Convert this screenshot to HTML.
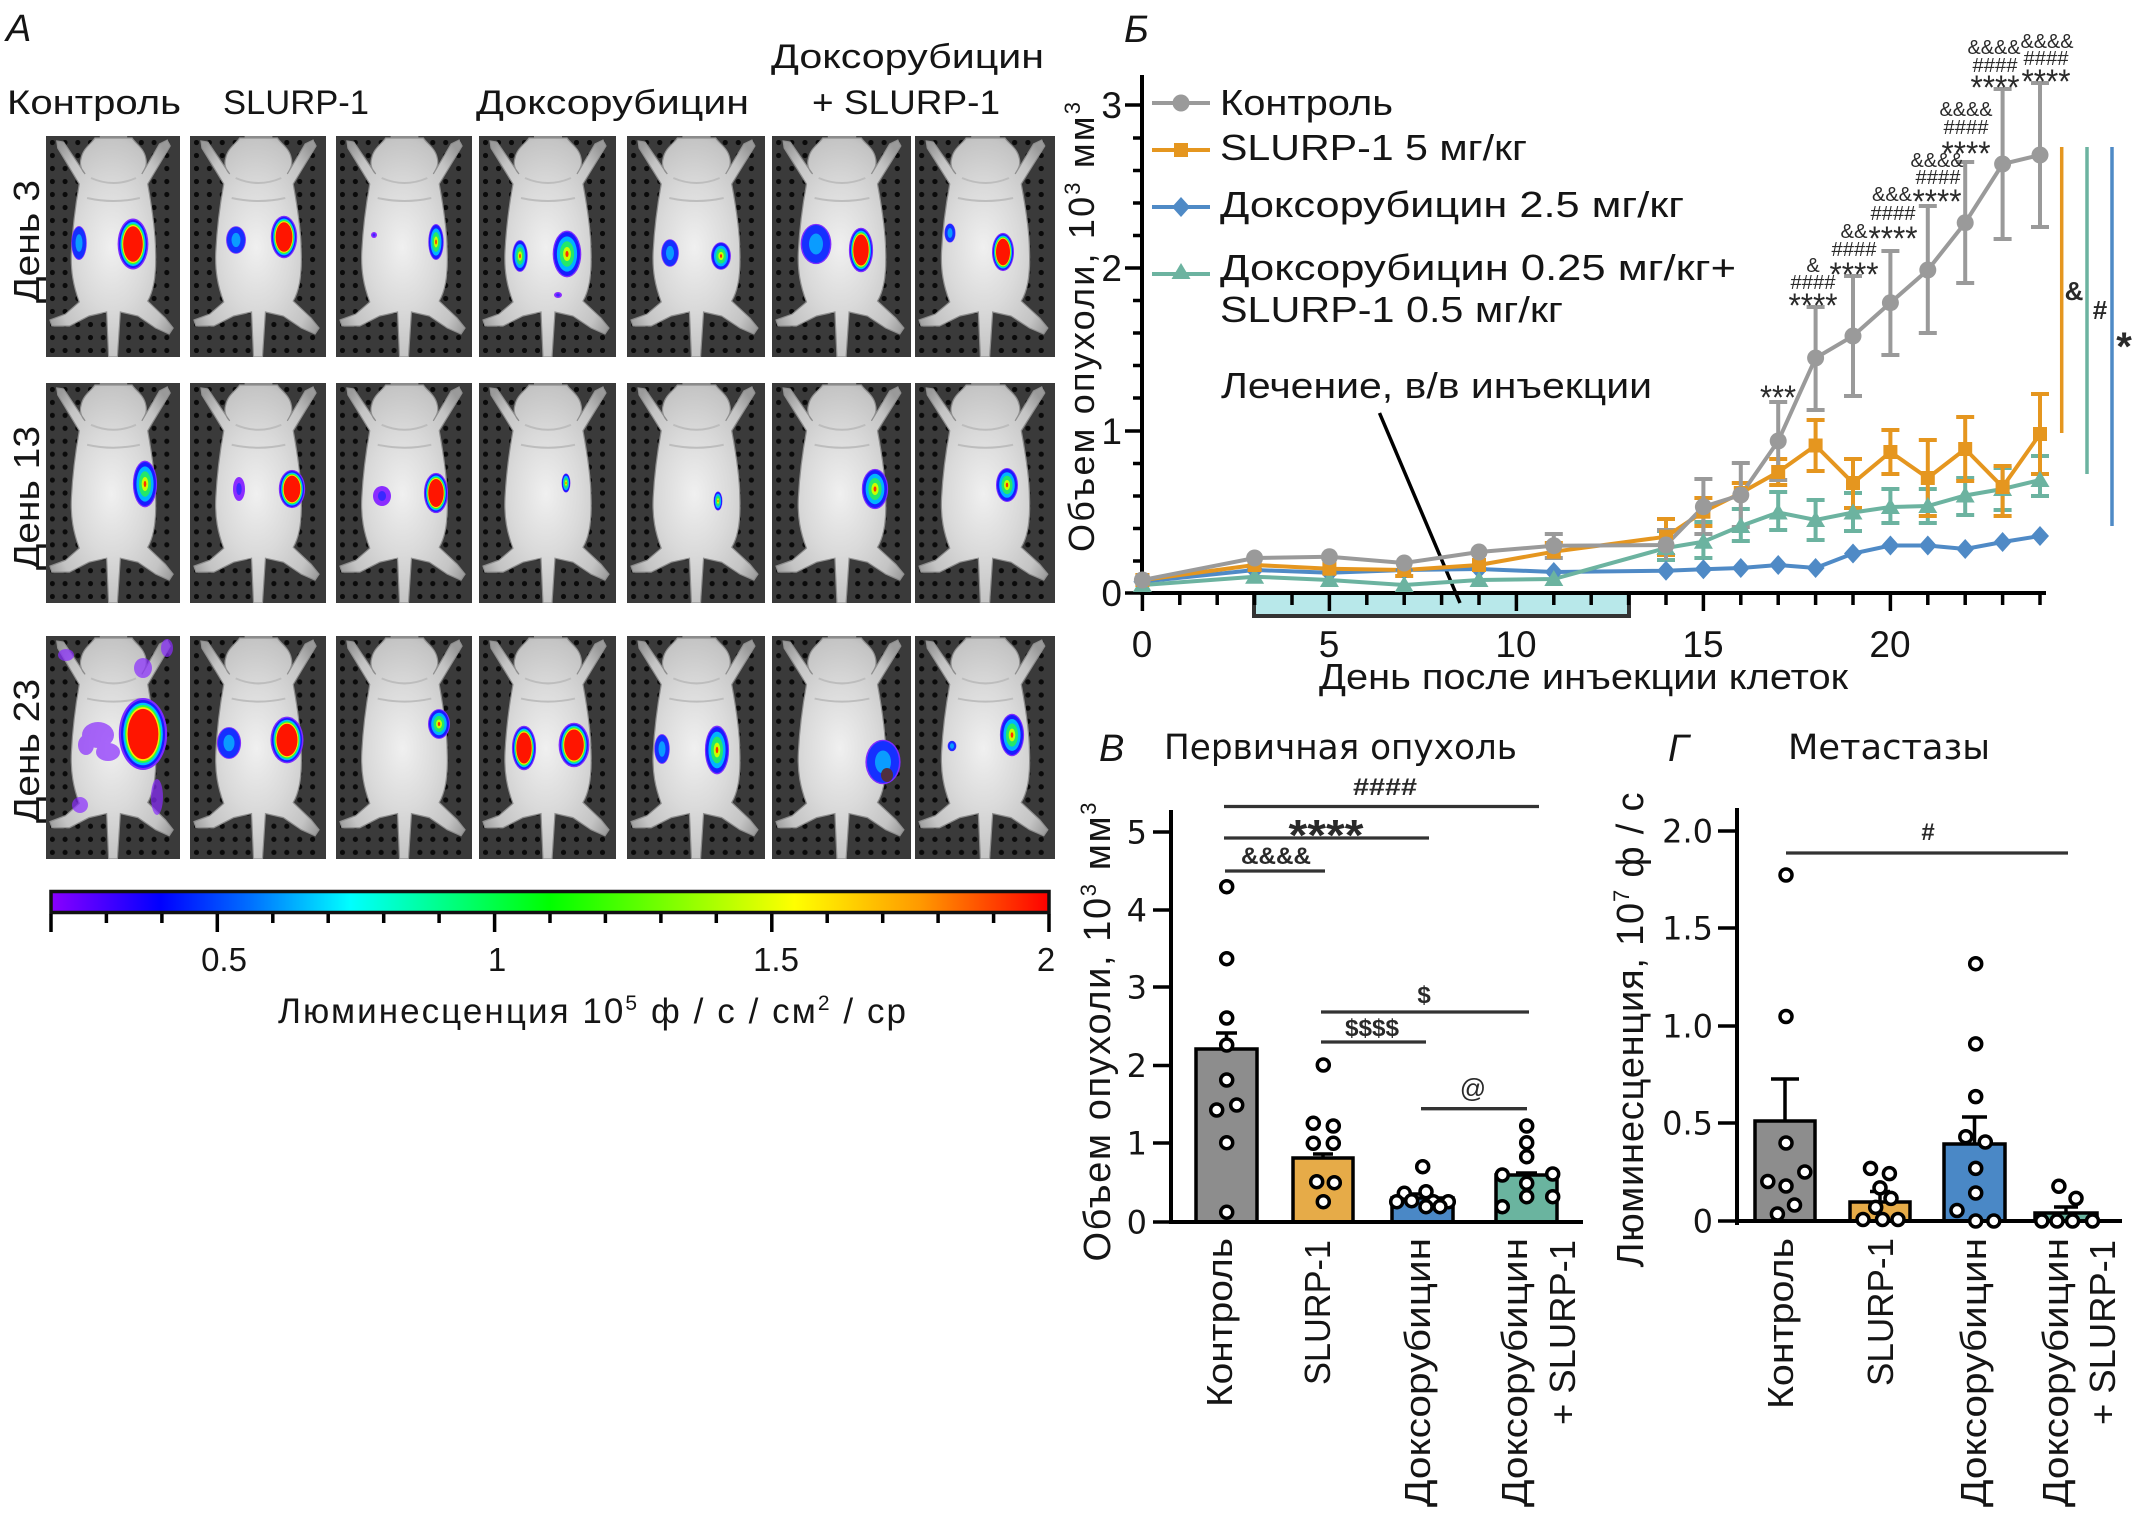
<!DOCTYPE html>
<html><head><meta charset="utf-8"><style>
html,body{margin:0;padding:0;background:#fff}
svg{display:block}
.t{font-family:"Liberation Sans","DejaVu Sans",sans-serif;fill:#151515}
.g{font-family:"DejaVu Sans","Liberation Sans",sans-serif;fill:#151515}
.d{fill:#fff;stroke:#000;stroke-width:3.5}
.ax{stroke:#000;stroke-width:4;fill:none}
.tk{stroke:#000;stroke-width:3.5;fill:none}
.sl{stroke:#333;stroke-width:3.3}
.s{font-family:"Liberation Sans",sans-serif;fill:#2a2a2a;text-anchor:middle}
</style></head><body>
<svg width="2137" height="1527" viewBox="0 0 2137 1527" xmlns="http://www.w3.org/2000/svg">
<defs>
<linearGradient id="cb" x1="0" x2="1" y1="0" y2="0">
<stop offset="0" stop-color="#8a00ff"/><stop offset="0.11" stop-color="#0000ff"/><stop offset="0.2" stop-color="#0070ff"/><stop offset="0.3" stop-color="#00ffff"/><stop offset="0.5" stop-color="#00ff00"/><stop offset="0.745" stop-color="#ffff00"/><stop offset="0.87" stop-color="#ff9a00"/><stop offset="1" stop-color="#ff0000"/>
</linearGradient>
<pattern id="holes" width="13" height="13" patternUnits="userSpaceOnUse"><circle cx="6.5" cy="6.5" r="2.6" fill="#0a0a0a"/></pattern>
<radialGradient id="skin" cx="0.5" cy="0.5" r="0.62"><stop offset="0" stop-color="#f0f0f0"/><stop offset="0.45" stop-color="#dadada"/><stop offset="0.8" stop-color="#c4c4c4"/><stop offset="1" stop-color="#9a9a9a"/></radialGradient>
<symbol id="m" viewBox="0 0 137 221" preserveAspectRatio="none">
<rect width="137" height="221" fill="#3a3a3a"/>
<rect x="4" y="4" width="129" height="213" fill="url(#holes)"/>
<rect x="55" y="0" width="28" height="8" fill="#8a8a8a"/>
<path d="M50 2 L88 2 C92 8 100 12 102 22 C104 30 100 34 98 38 L116 8 L124 4 L127 10 L104 48 C108 70 112 95 112 115 C113 140 110 155 104 165 L122 182 L130 192 L126 198 L112 192 L94 180 L76 176 L73 221 L64 221 L62 176 L44 180 L24 190 L6 190 L4 184 L20 178 L34 166 C28 150 25 135 26 115 C27 95 30 70 34 48 L12 12 L11 5 L18 6 L40 38 C36 34 34 28 36 22 C38 12 46 8 50 2 Z" fill="url(#skin)" stroke="#8e8e8e" stroke-width="1.2"/>
<path d="M46 42 Q69 52 92 42 M42 62 Q69 68 96 62" fill="none" stroke="#bdbdbd" stroke-width="2"/>
</symbol>
<g id="bR"><ellipse rx="1.1" ry="1.06" fill="#7f2cff"/><ellipse rx="1" ry="1" fill="#1a1aff"/><ellipse rx=".9" ry=".92" fill="#00bfff"/><ellipse rx=".82" ry=".85" fill="#2cff3a"/><ellipse rx=".76" ry=".79" fill="#ffe600"/><ellipse rx=".7" ry=".74" fill="#ff1500"/></g>
<g id="bG"><ellipse rx="1.1" ry="1.06" fill="#7f2cff"/><ellipse rx="1" ry="1" fill="#1a1aff"/><ellipse rx=".78" ry=".8" fill="#00b4ff"/><ellipse rx=".55" ry=".58" fill="#23e86a"/><ellipse rx=".3" ry=".32" fill="#c8ff00"/><ellipse rx=".12" ry=".14" fill="#ff3000"/></g>
<g id="bB"><ellipse rx="1.1" ry="1.06" fill="#7f2cff"/><ellipse rx="1" ry="1" fill="#1530ff"/><ellipse rx=".5" ry=".55" fill="#0a9cff"/></g>
<g id="bP"><ellipse rx="1" ry="1" fill="#8a2cff"/><ellipse rx=".45" ry=".5" fill="#3a28ff"/></g>
<circle id="gC" r="8.5" fill="#9a9a9a"/>
<rect id="oS" x="-7" y="-7" width="14" height="14" fill="#e5961f"/>
<path id="bD" d="M0 -10 L9 0 L0 10 L-9 0 Z" fill="#4f8ac6"/>
<path id="tT" d="M0 -9 L9.5 7 L-9.5 7 Z" fill="#6cb3a0"/>
</defs>

<!-- ===== Panel A ===== -->
<text class="t" x="6" y="41" font-size="38" font-style="italic">А</text>
<text class="t" x="7" y="114" font-size="34" textLength="174" lengthAdjust="spacingAndGlyphs">Контроль</text>
<text class="t" x="223" y="114" font-size="34" textLength="146" lengthAdjust="spacingAndGlyphs">SLURP-1</text>
<text class="t" x="476" y="114" font-size="34" textLength="273" lengthAdjust="spacingAndGlyphs">Доксорубицин</text>
<text class="t" x="771" y="68" font-size="34" textLength="273" lengthAdjust="spacingAndGlyphs">Доксорубицин</text>
<text class="t" x="812" y="114" font-size="34" textLength="188" lengthAdjust="spacingAndGlyphs">+ SLURP-1</text>

<text class="t" font-size="36" text-anchor="end" transform="translate(39 180) rotate(-90)" textLength="123" lengthAdjust="spacingAndGlyphs">День 3</text>
<text class="t" font-size="36" text-anchor="end" transform="translate(39 426) rotate(-90)" textLength="144" lengthAdjust="spacingAndGlyphs">День 13</text>
<text class="t" font-size="36" text-anchor="end" transform="translate(39 679) rotate(-90)" textLength="144" lengthAdjust="spacingAndGlyphs">День 23</text>

<!-- mouse panels -->
<use href="#m" x="46" y="136" width="134" height="221"/>
<use href="#m" x="190" y="136" width="136" height="221"/>
<use href="#m" x="336" y="136" width="136" height="221"/>
<use href="#m" x="479" y="136" width="137" height="221"/>
<use href="#m" x="627" y="136" width="138" height="221"/>
<use href="#m" x="772" y="136" width="139" height="221"/>
<use href="#m" x="915" y="136" width="140" height="221"/>
<use href="#m" x="46" y="383" width="134" height="220"/>
<use href="#m" x="190" y="383" width="136" height="220"/>
<use href="#m" x="336" y="383" width="136" height="220"/>
<use href="#m" x="479" y="383" width="137" height="220"/>
<use href="#m" x="627" y="383" width="138" height="220"/>
<use href="#m" x="772" y="383" width="139" height="220"/>
<use href="#m" x="915" y="383" width="140" height="220"/>
<use href="#m" x="46" y="636" width="134" height="223"/>
<use href="#m" x="190" y="636" width="136" height="223"/>
<use href="#m" x="336" y="636" width="136" height="223"/>
<use href="#m" x="479" y="636" width="137" height="223"/>
<use href="#m" x="627" y="636" width="138" height="223"/>
<use href="#m" x="772" y="636" width="139" height="223"/>
<use href="#m" x="915" y="636" width="140" height="223"/>

<!-- blobs row 1 -->
<use href="#bR" transform="translate(133 244) scale(14 24)"/>
<use href="#bB" transform="translate(79 243) scale(7 16)"/>
<use href="#bR" transform="translate(284 237) scale(12 20)"/>
<use href="#bB" transform="translate(236 240) scale(9 13)"/>
<use href="#bG" transform="translate(436 242) scale(7 17)"/>
<use href="#bP" transform="translate(374 235) scale(3 3)"/>
<use href="#bG" transform="translate(567 254) scale(13 22)"/>
<use href="#bG" transform="translate(520 256) scale(7 15)"/>
<use href="#bP" transform="translate(558 295) scale(4 3)"/>
<use href="#bG" transform="translate(721 256) scale(9 13)"/>
<use href="#bB" transform="translate(670 253) scale(8 13)"/>
<use href="#bR" transform="translate(861 250) scale(11 21)"/>
<use href="#bB" transform="translate(816 244) scale(14 19)"/>
<use href="#bR" transform="translate(1003 252) scale(10 18)"/>
<use href="#bB" transform="translate(950 233) scale(5 9)"/>
<!-- row 2 -->
<use href="#bG" transform="translate(145 484) scale(11 22)"/>
<use href="#bR" transform="translate(292 489) scale(12 18)"/>
<use href="#bP" transform="translate(239 489) scale(6 12)"/>
<use href="#bR" transform="translate(436 493) scale(11 19)"/>
<use href="#bP" transform="translate(382 496) scale(9 10)"/>
<use href="#bG" transform="translate(566 483) scale(4 9)"/>
<use href="#bG" transform="translate(718 501) scale(4 9)"/>
<use href="#bG" transform="translate(875 489) scale(12 19)"/>
<use href="#bG" transform="translate(1007 485) scale(10 16)"/>
<!-- row 3 -->
<g fill="#8a2cff" opacity="0.7">
<ellipse cx="98" cy="735" rx="16" ry="13"/>
<ellipse cx="108" cy="752" rx="12" ry="9"/>
<ellipse cx="86" cy="745" rx="8" ry="10"/>
<ellipse cx="66" cy="655" rx="8" ry="6"/>
<ellipse cx="167" cy="648" rx="6" ry="9"/>
<ellipse cx="143" cy="668" rx="9" ry="10"/>
<ellipse cx="80" cy="805" rx="8" ry="8"/>
<ellipse cx="157" cy="797" rx="6" ry="18"/>
</g>
<use href="#bR" transform="translate(143 734) scale(22 34)"/>
<use href="#bR" transform="translate(287 740) scale(15 22)"/>
<use href="#bB" transform="translate(229 743) scale(11 15)"/>
<use href="#bG" transform="translate(439 724) scale(10 14)"/>
<use href="#bR" transform="translate(574 745) scale(14 21)"/>
<use href="#bR" transform="translate(524 748) scale(11 21)"/>
<use href="#bG" transform="translate(717 750) scale(11 23)"/>
<use href="#bB" transform="translate(662 749) scale(7 14)"/>
<use href="#bB" transform="translate(883 762) scale(16 21)"/>
<ellipse cx="887" cy="775" rx="6" ry="7" fill="#503040"/>
<use href="#bG" transform="translate(1012 735) scale(11 20)"/>
<use href="#bB" transform="translate(952 746) scale(4 5)"/>

<!-- colorbar -->
<rect x="51" y="891.5" width="998" height="21" fill="url(#cb)" stroke="#111" stroke-width="3.5"/>
<g class="tk">
<path d="M51 914V932M106.4 914V923M161.9 914V923M217.3 914V932M272.8 914V923M328.2 914V923M383.7 914V923M439.1 914V923M494.6 914V932M550 914V923M605.4 914V923M660.9 914V923M716.3 914V923M771.8 914V932M827.2 914V923M882.7 914V923M938.1 914V923M993.6 914V923M1049 914V932"/>
</g>
<g class="t" font-size="33" text-anchor="middle">
<text x="224" y="971">0.5</text><text x="497" y="971">1</text><text x="776" y="971">1.5</text><text x="1046" y="971">2</text>
</g>
<text class="t" x="278" y="1023" font-size="35" textLength="628" lengthAdjust="spacing">Люминесценция 10<tspan dy="-13" font-size="21">5</tspan><tspan dy="13"> ф / с / см</tspan><tspan dy="-13" font-size="21">2</tspan><tspan dy="13"> / ср</tspan></text>

<!-- ===== Panel Б ===== -->
<text class="t" x="1124" y="42" font-size="38" font-style="italic">Б</text>
<rect x="1254" y="593" width="375" height="23" fill="#b8e8ea" stroke="#333" stroke-width="4"/>
<path class="ax" d="M1142 75V595M1140 593H2046"/>
<path class="tk" d="M1125 105H1142M1125 268H1142M1125 431H1142M1125 593H1142M1133 138H1142M1133 170.5H1142M1133 203H1142M1133 235.5H1142M1133 300.5H1142M1133 333H1142M1133 365.5H1142M1133 398H1142M1133 463.5H1142M1133 496H1142M1133 528.5H1142M1133 561H1142"/>
<path class="tk" d="M1142.4 593V611M1179.8 593V605M1217.2 593V605M1254.6 593V605M1292 593V605M1329.4 593V611M1366.8 593V605M1404.2 593V605M1441.6 593V605M1479 593V605M1516.4 593V611M1553.8 593V605M1591.2 593V605M1628.6 593V605M1666 593V605M1703.4 593V611M1740.8 593V605M1778.2 593V605M1815.6 593V605M1853 593V605M1890.4 593V611M1927.8 593V605M1965.2 593V605M2002.6 593V605M2040 593V605"/>
<g class="t" font-size="37" text-anchor="end">
<text x="1122" y="118">3</text><text x="1122" y="281">2</text><text x="1122" y="444">1</text><text x="1122" y="606">0</text>
</g>
<g class="t" font-size="37" text-anchor="middle">
<text x="1142" y="657">0</text><text x="1329" y="657">5</text><text x="1516" y="657">10</text><text x="1703" y="657">15</text><text x="1890" y="657">20</text>
</g>
<text class="t" x="1319" y="689" font-size="36" textLength="529" lengthAdjust="spacingAndGlyphs">День после инъекции клеток</text>
<text class="t" font-size="36" text-anchor="middle" transform="translate(1094 327) rotate(-90)" textLength="450" lengthAdjust="spacing">Объем опухоли, 10<tspan dy="-14" font-size="22">3</tspan><tspan dy="14"> мм</tspan><tspan dy="-14" font-size="22">3</tspan></text>

<!-- legend -->
<path d="M1152 103H1210" stroke="#9a9a9a" stroke-width="4"/><use href="#gC" x="1181" y="103"/>
<path d="M1152 150H1210" stroke="#e5961f" stroke-width="4"/><use href="#oS" x="1181" y="150"/>
<path d="M1152 207H1210" stroke="#4f8ac6" stroke-width="4"/><use href="#bD" x="1181" y="207"/>
<path d="M1152 274H1210" stroke="#6cb3a0" stroke-width="4"/><use href="#tT" x="1181" y="272"/>
<g class="t" font-size="36">
<text x="1220" y="115" textLength="173" lengthAdjust="spacingAndGlyphs">Контроль</text>
<text x="1220" y="160" textLength="307" lengthAdjust="spacingAndGlyphs">SLURP-1 5 мг/кг</text>
<text x="1220" y="217" textLength="464" lengthAdjust="spacingAndGlyphs">Доксорубицин 2.5 мг/кг</text>
<text x="1220" y="280" textLength="516" lengthAdjust="spacingAndGlyphs">Доксорубицин 0.25 мг/кг+</text>
<text x="1220" y="322" textLength="343" lengthAdjust="spacingAndGlyphs">SLURP-1 0.5 мг/кг</text>
</g>
<text class="t" x="1221" y="398" font-size="36" textLength="431" lengthAdjust="spacingAndGlyphs">Лечение, в/в инъекции</text>
<path d="M1379.5 413L1460 603" stroke="#000" stroke-width="3.5"/>

<!-- error bars -->
<path fill="none" stroke="#6cb3a0" stroke-width="4" d="M1666 531V560M1657 531h18M1657 560h18M1703.4 522V558M1694.4 522h18M1694.4 558h18M1740.8 509V541M1731.8 509h18M1731.8 541h18M1778.2 492V530M1769.2 492h18M1769.2 530h18M1815.6 500V540M1806.6 500h18M1806.6 540h18M1853 493V531M1844 493h18M1844 531h18M1890.4 489V523M1881.4 489h18M1881.4 523h18M1927.8 489V523M1918.8 489h18M1918.8 523h18M1965.2 478V515M1956.2 478h18M1956.2 515h18M2002.6 468V510M1993.6 468h18M1993.6 510h18M2040 456V496M2031 456h18M2031 496h18"/>
<path fill="none" stroke="#e5961f" stroke-width="4" d="M1404.2 565V576M1395.2 576h18M1553.8 543V560M1544.8 543h18M1666 519V555M1657 519h18M1657 555h18M1703.4 498V526M1694.4 498h18M1694.4 526h18M1740.8 483V503M1731.8 483h18M1778.2 459V485M1769.2 459h18M1769.2 485h18M1815.6 420V471M1806.6 420h18M1806.6 471h18M1853 459V508M1844 459h18M1844 508h18M1890.4 430V474M1881.4 430h18M1881.4 474h18M1927.8 440V516M1918.8 440h18M1918.8 516h18M1965.2 417V481M1956.2 417h18M1956.2 481h18M2002.6 466V516M1993.6 466h18M1993.6 516h18M2040 394V474M2031 394h18M2031 474h18"/>
<path fill="none" stroke="#9a9a9a" stroke-width="4" d="M1553.8 534V558M1544.8 534h18M1544.8 558h18M1666 530V560M1657 530h18M1703.4 479V534M1694.4 479h18M1694.4 534h18M1740.8 463V527M1731.8 463h18M1731.8 527h18M1778.2 402V480M1769.2 402h18M1769.2 480h18M1815.6 307V410M1806.6 307h18M1806.6 410h18M1853 276V396M1844 276h18M1844 396h18M1890.4 251V355M1881.4 251h18M1881.4 355h18M1927.8 206V333M1918.8 206h18M1918.8 333h18M1965.2 162V283M1956.2 162h18M1956.2 283h18M2002.6 89V239M1993.6 89h18M1993.6 239h18M2040 83V227M2031 83h18M2031 227h18"/>

<!-- series lines -->
<polyline fill="none" stroke="#4f8ac6" stroke-width="4" points="1142.4,581.7 1254.6,570 1329.4,572.7 1404.2,570 1479,569 1553.8,572 1666,570.7 1703.4,569.3 1740.8,568 1778.2,565 1815.6,568 1853,553.5 1890.4,545.5 1927.8,545.5 1965.2,549 2002.6,542 2040,536"/>
<polyline fill="none" stroke="#6cb3a0" stroke-width="4" points="1142.4,585 1254.6,576.7 1329.4,580 1404.2,585 1479,580 1553.8,579 1666,548 1703.4,541.7 1740.8,526 1778.2,512.5 1815.6,520 1853,512.5 1890.4,507 1927.8,506 1965.2,495.5 2002.6,489 2040,480"/>
<polyline fill="none" stroke="#e5961f" stroke-width="4" points="1142.4,580 1254.6,565 1329.4,568.7 1404.2,570 1479,565 1553.8,551.7 1666,536.7 1703.4,511.7 1740.8,493 1778.2,472 1815.6,445.5 1853,483 1890.4,452 1927.8,478 1965.2,449 2002.6,487 2040,434"/>
<polyline fill="none" stroke="#9a9a9a" stroke-width="4" points="1142.4,580 1254.6,558 1329.4,556.7 1404.2,563 1479,552 1553.8,545.7 1666,545 1703.4,506.7 1740.8,495 1778.2,441 1815.6,358 1853,336 1890.4,302.7 1927.8,270 1965.2,222.7 2002.6,164 2040,155"/>
<g>
<use href="#bD" x="1142.4" y="581.7"/><use href="#bD" x="1254.6" y="570"/><use href="#bD" x="1329.4" y="572.7"/><use href="#bD" x="1404.2" y="570"/><use href="#bD" x="1479" y="569"/><use href="#bD" x="1553.8" y="572"/><use href="#bD" x="1666" y="570.7"/><use href="#bD" x="1703.4" y="569.3"/><use href="#bD" x="1740.8" y="568"/><use href="#bD" x="1778.2" y="565"/><use href="#bD" x="1815.6" y="568"/><use href="#bD" x="1853" y="553.5"/><use href="#bD" x="1890.4" y="545.5"/><use href="#bD" x="1927.8" y="545.5"/><use href="#bD" x="1965.2" y="549"/><use href="#bD" x="2002.6" y="542"/><use href="#bD" x="2040" y="536"/>
<use href="#tT" x="1142.4" y="585"/><use href="#tT" x="1254.6" y="576.7"/><use href="#tT" x="1329.4" y="580"/><use href="#tT" x="1404.2" y="585"/><use href="#tT" x="1479" y="580"/><use href="#tT" x="1553.8" y="579"/><use href="#tT" x="1666" y="548"/><use href="#tT" x="1703.4" y="541.7"/><use href="#tT" x="1740.8" y="526"/><use href="#tT" x="1778.2" y="512.5"/><use href="#tT" x="1815.6" y="520"/><use href="#tT" x="1853" y="512.5"/><use href="#tT" x="1890.4" y="507"/><use href="#tT" x="1927.8" y="506"/><use href="#tT" x="1965.2" y="495.5"/><use href="#tT" x="2002.6" y="489"/><use href="#tT" x="2040" y="480"/>
<use href="#oS" x="1142.4" y="580"/><use href="#oS" x="1254.6" y="565"/><use href="#oS" x="1329.4" y="568.7"/><use href="#oS" x="1404.2" y="570"/><use href="#oS" x="1479" y="565"/><use href="#oS" x="1553.8" y="551.7"/><use href="#oS" x="1666" y="536.7"/><use href="#oS" x="1703.4" y="511.7"/><use href="#oS" x="1740.8" y="493"/><use href="#oS" x="1778.2" y="472"/><use href="#oS" x="1815.6" y="445.5"/><use href="#oS" x="1853" y="483"/><use href="#oS" x="1890.4" y="452"/><use href="#oS" x="1927.8" y="478"/><use href="#oS" x="1965.2" y="449"/><use href="#oS" x="2002.6" y="487"/><use href="#oS" x="2040" y="434"/>
<use href="#gC" x="1142.4" y="580"/><use href="#gC" x="1254.6" y="558"/><use href="#gC" x="1329.4" y="556.7"/><use href="#gC" x="1404.2" y="563"/><use href="#gC" x="1479" y="552"/><use href="#gC" x="1553.8" y="545.7"/><use href="#gC" x="1666" y="545"/><use href="#gC" x="1703.4" y="506.7"/><use href="#gC" x="1740.8" y="495"/><use href="#gC" x="1778.2" y="441"/><use href="#gC" x="1815.6" y="358"/><use href="#gC" x="1853" y="336"/><use href="#gC" x="1890.4" y="302.7"/><use href="#gC" x="1927.8" y="270"/><use href="#gC" x="1965.2" y="222.7"/><use href="#gC" x="2002.6" y="164"/><use href="#gC" x="2040" y="155"/>
</g>

<!-- significance in Б -->
<g class="s" font-size="20">
<text x="1813" y="272">&amp;</text><text x="1813" y="289" textLength="45" lengthAdjust="spacingAndGlyphs">####</text>
<text x="1854" y="238" textLength="27" lengthAdjust="spacingAndGlyphs">&amp;&amp;</text><text x="1854" y="256" textLength="45" lengthAdjust="spacingAndGlyphs">####</text>
<text x="1892" y="201" textLength="40" lengthAdjust="spacingAndGlyphs">&amp;&amp;&amp;</text><text x="1893" y="220" textLength="45" lengthAdjust="spacingAndGlyphs">####</text>
<text x="1937" y="167" textLength="53" lengthAdjust="spacingAndGlyphs">&amp;&amp;&amp;&amp;</text><text x="1938" y="184" textLength="45" lengthAdjust="spacingAndGlyphs">####</text>
<text x="1966" y="116" textLength="53" lengthAdjust="spacingAndGlyphs">&amp;&amp;&amp;&amp;</text><text x="1966" y="134" textLength="45" lengthAdjust="spacingAndGlyphs">####</text>
<text x="1994" y="54" textLength="53" lengthAdjust="spacingAndGlyphs">&amp;&amp;&amp;&amp;</text><text x="1995" y="72" textLength="45" lengthAdjust="spacingAndGlyphs">####</text>
<text x="2047" y="48" textLength="53" lengthAdjust="spacingAndGlyphs">&amp;&amp;&amp;&amp;</text><text x="2046" y="65" textLength="45" lengthAdjust="spacingAndGlyphs">####</text>
</g>
<g class="s" font-size="34">
<text x="1813" y="317" textLength="49" lengthAdjust="spacingAndGlyphs">****</text>
<text x="1854" y="286" textLength="49" lengthAdjust="spacingAndGlyphs">****</text>
<text x="1893" y="250" textLength="49" lengthAdjust="spacingAndGlyphs">****</text>
<text x="1937" y="213" textLength="49" lengthAdjust="spacingAndGlyphs">****</text>
<text x="1966" y="165" textLength="49" lengthAdjust="spacingAndGlyphs">****</text>
<text x="1995" y="99" textLength="49" lengthAdjust="spacingAndGlyphs">****</text>
<text x="2046" y="93" textLength="49" lengthAdjust="spacingAndGlyphs">****</text>
<text x="1778" y="409" textLength="36" lengthAdjust="spacingAndGlyphs">***</text>
</g>
<path d="M2061.7 147V433" stroke="#e5961f" stroke-width="3.5"/>
<path d="M2087 147V474" stroke="#6cb3a0" stroke-width="3.5"/>
<path d="M2112 147V526" stroke="#4f8ac6" stroke-width="3.5"/>
<text class="s" x="2074" y="300" font-size="26" font-weight="bold">&amp;</text>
<text class="s" x="2100" y="319" font-size="26" font-weight="bold">#</text>
<text class="s" x="2124" y="360" font-size="40" font-weight="bold">*</text>

<!-- ===== Panel В ===== -->
<text class="t" x="1099" y="761" font-size="38" font-style="italic">В</text>
<text class="g" x="1164" y="759" font-size="35" textLength="353" lengthAdjust="spacingAndGlyphs">Первичная опухоль</text>
<text class="t" font-size="38" text-anchor="middle" transform="translate(1110 1032) rotate(-90)" textLength="459" lengthAdjust="spacing">Объем опухоли, 10<tspan dy="-14" font-size="22">3</tspan><tspan dy="14"> мм</tspan><tspan dy="-14" font-size="22">3</tspan></text>
<g class="g" font-size="32" text-anchor="end">
<text x="1147" y="843.5">5</text><text x="1147" y="921.5">4</text><text x="1147" y="998.5">3</text><text x="1147" y="1077">2</text><text x="1147" y="1154.5">1</text><text x="1147" y="1233.5">0</text>
</g>
<g stroke="#000" stroke-width="3.5">
<rect x="1196" y="1049" width="61" height="173" fill="#8d8d8d"/>
<rect x="1293" y="1158" width="60" height="64" fill="#e6ab48"/>
<rect x="1392" y="1198" width="61" height="24" fill="#4a88c6"/>
<rect x="1496" y="1175" width="61" height="47" fill="#6ab49f"/>
<path fill="none" d="M1226.5 1049V1033M1216 1033H1237M1323 1158V1154M1313 1154H1333M1422.5 1198V1194M1412 1194H1433M1526.5 1175V1173M1516 1173H1537"/>
</g>
<path class="ax" d="M1171 810V1224M1169 1222H1583"/>
<path class="tk" d="M1153 832H1171M1153 910H1171M1153 987H1171M1153 1065.5H1171M1153 1143H1171M1153 1222H1171"/>
<g>
<circle class="d" r="6" cx="1226.7" cy="886.7"/><circle class="d" r="6" cx="1226.7" cy="958.7"/><circle class="d" r="6" cx="1226.7" cy="1018"/><circle class="d" r="6" cx="1226.7" cy="1045"/><circle class="d" r="6" cx="1226.7" cy="1080"/><circle class="d" r="6" cx="1216.7" cy="1110"/><circle class="d" r="6" cx="1236.7" cy="1105"/><circle class="d" r="6" cx="1226.7" cy="1142.7"/><circle class="d" r="6" cx="1226.7" cy="1212.3"/>
<circle class="d" r="6" cx="1323.3" cy="1065"/><circle class="d" r="6" cx="1313.3" cy="1123.3"/><circle class="d" r="6" cx="1333.3" cy="1126"/><circle class="d" r="6" cx="1313.3" cy="1143.3"/><circle class="d" r="6" cx="1333.3" cy="1143.3"/><circle class="d" r="6" cx="1316.7" cy="1181.7"/><circle class="d" r="6" cx="1334.3" cy="1182.7"/><circle class="d" r="6" cx="1323.3" cy="1201.7"/>
<circle class="d" r="6" cx="1422.7" cy="1166.7"/><circle class="d" r="6" cx="1404.3" cy="1193.3"/><circle class="d" r="6" cx="1426" cy="1191.7"/><circle class="d" r="6" cx="1396.7" cy="1201.7"/><circle class="d" r="6" cx="1411.7" cy="1200.7"/><circle class="d" r="6" cx="1433.3" cy="1201.7"/><circle class="d" r="6" cx="1448.3" cy="1201.7"/><circle class="d" r="6" cx="1426" cy="1206.7"/><circle class="d" r="6" cx="1440" cy="1206.7"/>
<circle class="d" r="6" cx="1526.7" cy="1126"/><circle class="d" r="6" cx="1526.7" cy="1142.7"/><circle class="d" r="6" cx="1526.7" cy="1156.7"/><circle class="d" r="6" cx="1502.3" cy="1175"/><circle class="d" r="6" cx="1552.7" cy="1174"/><circle class="d" r="6" cx="1526.7" cy="1183.3"/><circle class="d" r="6" cx="1526.7" cy="1196.7"/><circle class="d" r="6" cx="1552.7" cy="1196.7"/><circle class="d" r="6" cx="1502.3" cy="1206.7"/>
</g>
<path class="sl" d="M1224 806.5H1539M1224 838H1429M1225 871H1325M1321 1012H1529M1321 1042H1426M1421 1108.7H1527"/>
<g class="s" font-size="24" font-weight="bold">
<text x="1385" y="795" textLength="64" lengthAdjust="spacingAndGlyphs">####</text>
<text x="1276" y="864" textLength="70" lengthAdjust="spacingAndGlyphs">&amp;&amp;&amp;&amp;</text>
<text x="1424" y="1003">$</text>
<text x="1372" y="1036" textLength="54" lengthAdjust="spacingAndGlyphs">$$$$</text>
<text x="1473" y="1097" font-size="26" font-weight="normal">@</text>
<text x="1326" y="850" font-size="44" textLength="75" lengthAdjust="spacingAndGlyphs">****</text>
</g>
<g class="t" font-size="36" text-anchor="end">
<text transform="translate(1232 1238) rotate(-90)" textLength="169" lengthAdjust="spacingAndGlyphs">Контроль</text>
<text transform="translate(1330 1240) rotate(-90)" textLength="145" lengthAdjust="spacingAndGlyphs">SLURP-1</text>
<text transform="translate(1430 1238) rotate(-90)" textLength="269" lengthAdjust="spacingAndGlyphs">Доксорубицин</text>
<text transform="translate(1527 1238) rotate(-90)" textLength="269" lengthAdjust="spacingAndGlyphs">Доксорубицин</text>
<text transform="translate(1575 1240) rotate(-90)" textLength="185" lengthAdjust="spacingAndGlyphs">+ SLURP-1</text>
</g>

<!-- ===== Panel Г ===== -->
<text class="t" x="1668" y="761" font-size="38" font-style="italic">Г</text>
<text class="g" x="1788" y="759" font-size="35" textLength="202" lengthAdjust="spacingAndGlyphs">Метастазы</text>
<text class="t" font-size="38" text-anchor="middle" transform="translate(1643 1030) rotate(-90)" textLength="475" lengthAdjust="spacing">Люминесценция, 10<tspan dy="-14" font-size="22">7</tspan><tspan dy="14"> ф / с</tspan></text>
<g class="g" font-size="32" text-anchor="end">
<text x="1713" y="842.5">2.0</text><text x="1713" y="939.5">1.5</text><text x="1713" y="1037.5">1.0</text><text x="1713" y="1134.5">0.5</text><text x="1713" y="1232.5">0</text>
</g>
<g stroke="#000" stroke-width="3.5">
<rect x="1755" y="1121" width="60" height="100" fill="#8d8d8d"/>
<rect x="1850" y="1202" width="60" height="19" fill="#e6ab48"/>
<rect x="1944" y="1144" width="61" height="77" fill="#4a88c6"/>
<rect x="2035" y="1213" width="62" height="8" fill="#6ab49f"/>
<path fill="none" d="M1785 1121V1079M1771 1079H1799M1880 1202V1191.5M1870 1191.5H1890M1974.5 1144V1117M1962 1117H1987M2066 1213V1207M2054 1207H2078"/>
</g>
<path class="ax" d="M1737 808V1225M1735 1221H2122"/>
<path class="tk" d="M1718 831H1737M1718 928H1737M1718 1026H1737M1718 1123H1737M1718 1221H1737"/>
<g>
<circle class="d" r="6" cx="1786" cy="875"/><circle class="d" r="6" cx="1786" cy="1016.5"/><circle class="d" r="6" cx="1786" cy="1143"/><circle class="d" r="6" cx="1804.8" cy="1172"/><circle class="d" r="6" cx="1767.8" cy="1181.5"/><circle class="d" r="6" cx="1786" cy="1186"/><circle class="d" r="6" cx="1794.5" cy="1205"/><circle class="d" r="6" cx="1777.4" cy="1214"/>
<circle class="d" r="6" cx="1870.5" cy="1168.4"/><circle class="d" r="6" cx="1889.4" cy="1173.6"/><circle class="d" r="6" cx="1880" cy="1187.9"/><circle class="d" r="6" cx="1891" cy="1198.4"/><circle class="d" r="6" cx="1875.7" cy="1207.4"/><circle class="d" r="6" cx="1863" cy="1219.5"/><circle class="d" r="6" cx="1882.5" cy="1219.5"/><circle class="d" r="6" cx="1898" cy="1219.5"/>
<circle class="d" r="6" cx="1975.7" cy="963.7"/><circle class="d" r="6" cx="1975.7" cy="1043.9"/><circle class="d" r="6" cx="1975.7" cy="1096.6"/><circle class="d" r="6" cx="1965.8" cy="1136.7"/><circle class="d" r="6" cx="1985.3" cy="1142"/><circle class="d" r="6" cx="1975.7" cy="1168.4"/><circle class="d" r="6" cx="1975.7" cy="1193"/><circle class="d" r="6" cx="1957" cy="1210.5"/><circle class="d" r="6" cx="1975.7" cy="1221"/><circle class="d" r="6" cx="1993.8" cy="1221"/>
<circle class="d" r="6" cx="2058.9" cy="1186.3"/><circle class="d" r="6" cx="2076" cy="1198.4"/><circle class="d" r="6" cx="2041.8" cy="1221"/><circle class="d" r="6" cx="2057" cy="1221"/><circle class="d" r="6" cx="2072.6" cy="1221"/><circle class="d" r="6" cx="2092.5" cy="1221"/>
</g>
<path class="sl" d="M1786 853H2068"/>
<text class="s" x="1928" y="840" font-size="24" font-weight="bold">#</text>
<g class="t" font-size="36" text-anchor="end">
<text transform="translate(1793 1238) rotate(-90)" textLength="171" lengthAdjust="spacingAndGlyphs">Контроль</text>
<text transform="translate(1893 1238) rotate(-90)" textLength="148" lengthAdjust="spacingAndGlyphs">SLURP-1</text>
<text transform="translate(1986 1238) rotate(-90)" textLength="269" lengthAdjust="spacingAndGlyphs">Доксорубицин</text>
<text transform="translate(2068 1238) rotate(-90)" textLength="269" lengthAdjust="spacingAndGlyphs">Доксорубицин</text>
<text transform="translate(2115 1240) rotate(-90)" textLength="185" lengthAdjust="spacingAndGlyphs">+ SLURP-1</text>
</g>
</svg>
</body></html>
